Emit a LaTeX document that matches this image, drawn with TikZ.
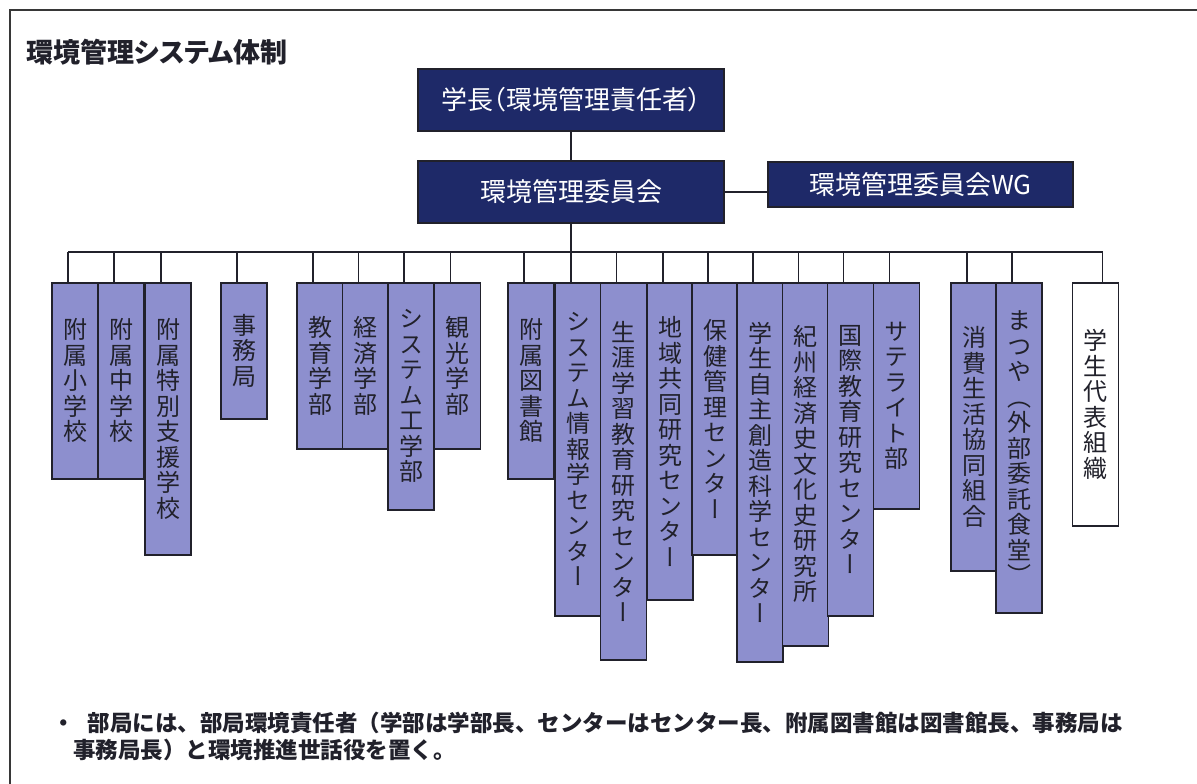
\documentclass[tikz,border=0pt]{standalone}
\usepackage{fontspec}
\setmainfont{Noto Sans CJK JP}
\newfontfamily\vjp[RawFeature=+vert]{Noto Sans CJK JP}
\newfontfamily\hjp[RawFeature=+palt]{Noto Sans CJK JP}
\usepackage{xcolor}
\usepackage{tikz}

\definecolor{navy}{RGB}{30,41,104}
\definecolor{unitfill}{RGB}{141,143,206}
\definecolor{edgecol}{RGB}{33,33,43}
\definecolor{framecol}{RGB}{55,55,55}

% vertical (tategaki) label: one glyph per line
\ExplSyntaxOn
\NewDocumentCommand\vtext{m}
  {
    \vbox
      {
        \vjp
        \baselineskip=25.5pt
        \lineskiplimit=-100pt
        \tl_map_inline:nn {#1} { \hbox_to_wd:nn {30pt} { \hss ##1 \hss } }
      }
  }
\ExplSyntaxOff

\begin{document}
\begin{tikzpicture}[x=1pt, y=1pt,
    head/.style={draw=edgecol, fill=navy, text=white, line width=1.5pt,
      minimum width=306pt, inner sep=0pt, font=\fontsize{26}{30}\selectfont\hjp},
    unit/.style={draw=edgecol, fill=unitfill, text=edgecol, line width=1.5pt,
      minimum width=46pt, inner sep=0pt, anchor=north, font=\fontsize{24}{26}\selectfont},
    link/.style={draw=edgecol, line width=1.6pt}]
        \useasboundingbox (0,0) rectangle (1197,-784);
        \draw[framecol, line width=2.5pt] (10,-10) rectangle (1220,-800);

        \node[anchor=west, inner sep=0pt, text=edgecol,
          font=\fontsize{27}{30}\selectfont\hjp\bfseries] (title) at (26,-52) {環境管理システム体制};

        \node[head, minimum height=62pt] (pres) at (571,-100) {学長（環境管理責任者）};
        \node[head, minimum height=62pt] (cmte) at (571,-192) {環境管理委員会};
        \node[head, minimum width=305pt, minimum height=45pt] (wg) at (920.5,-184.5) {環境管理委員会WG};
        \draw[link] (pres.south) -- (cmte.north);
        \draw[link] (cmte.east) -- (cmte.east -| wg.west);

        \coordinate (bus) at (0,-252);

        \node[unit, minimum height=196pt] (u1) at (75,-282) {\vtext{附属小学校}};
        \node[unit, minimum height=196pt] (u2) at (121,-282) {\vtext{附属中学校}};
        \node[unit, minimum height=272pt] (u3) at (168,-282) {\vtext{附属特別支援学校}};
        \node[unit, minimum height=136pt] (u4) at (244,-282) {\vtext{事務局}};
        \node[unit, minimum height=166pt] (u5) at (320,-282) {\vtext{教育学部}};
        \node[unit, minimum height=166pt] (u6) at (365.5,-282) {\vtext{経済学部}};
        \node[unit, minimum height=227pt] (u7) at (411,-282) {\vtext{システム工学部}};
        \node[unit, minimum height=166pt] (u8) at (457.5,-282) {\vtext{観光学部}};
        \node[unit, minimum height=196pt] (u9) at (531,-282) {\vtext{附属図書館}};
        \node[unit, minimum height=333pt] (u10) at (578,-282) {\vtext{システム情報学センター}};
        \node[unit, minimum height=377pt] (u11) at (623.5,-282) {\vtext{生涯学習教育研究センター}};
        \node[unit, minimum height=317pt] (u12) at (670,-282) {\vtext{地域共同研究センター}};
        \node[unit, minimum height=272pt] (u13) at (715,-282) {\vtext{保健管理センター}};
        \node[unit, minimum height=379pt] (u14) at (760,-282) {\vtext{学生自主創造科学センター}};
        \node[unit, minimum height=363pt] (u15) at (805.5,-282) {\vtext{紀州経済史文化史研究所}};
        \node[unit, minimum height=333pt] (u16) at (850.5,-282) {\vtext{国際教育研究センター}};
        \node[unit, minimum height=226pt] (u17) at (896.5,-282) {\vtext{サテライト部}};
        \node[unit, minimum height=288pt] (u18) at (974,-282) {\vtext{消費生活協同組合}};
        \node[unit, minimum height=330pt] (u19) at (1019,-282) {\vtext{まつや（外部委託食堂）}};
        \node[unit, fill=white, minimum height=243pt] (u20) at (1095.5,-282) {\vtext{学生代表組織}};

        % committee down to the bus, then one drop per unit
        \draw[link] (cmte.south) -- (cmte.south |- bus);
        \draw[link] ([xshift=-7pt]u1.north |- bus) -- ([xshift=7pt]u20.north |- bus);
        \foreach \i in {1,...,19}
            \draw[link] ([xshift=-7pt]u\i.north) -- ++(0,30);
        \draw[link] ([xshift=7pt]u20.north) -- ++(0,30);

        \node[anchor=west, inner sep=0pt, text=edgecol,
          font=\fontsize{22.5}{27}\selectfont\bfseries] (note1) at (52,-723)
          {・\hspace{13pt}部局には、部局環境責任者（学部は学部長、センターはセンター長、附属図書館は図書館長、事務局は};
        \node[anchor=west, inner sep=0pt, text=edgecol,
          font=\fontsize{22.5}{27}\selectfont\bfseries] (note2) at (73,-750)
          {事務局長）と環境推進世話役を置く。};
    \end{tikzpicture}
\end{document}
